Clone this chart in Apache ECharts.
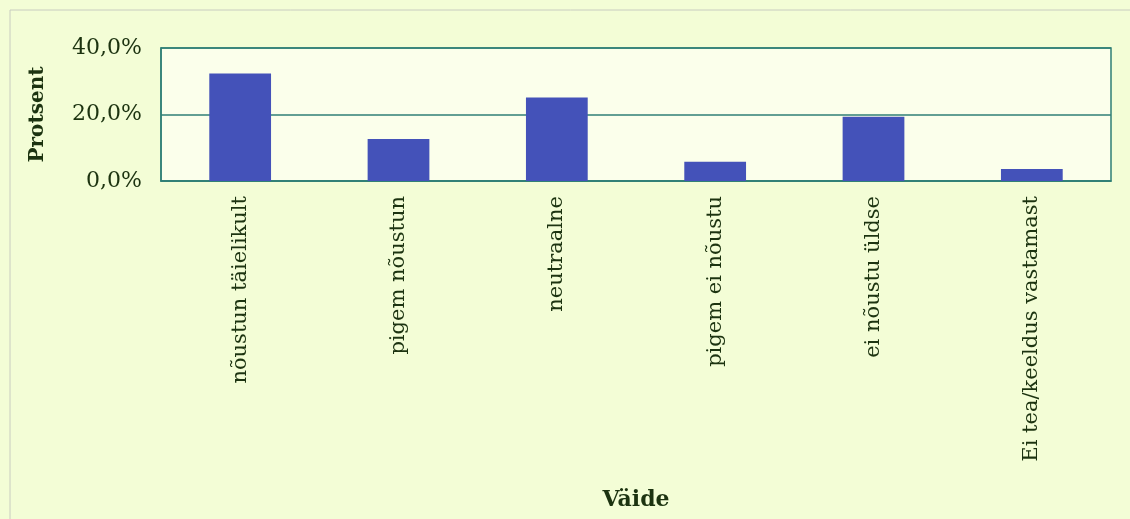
<!DOCTYPE html>
<html>
<head>
<meta charset="utf-8">
<script src="https://cdn.jsdelivr.net/npm/echarts@6/dist/echarts.min.js"></script>
<style>
  html, body { margin: 0; padding: 0; background: #f3fdd6; }
  #chart { width: 1130px; height: 519px; }
</style>
</head>
<body>
<div id="chart"></div>
<script>
// categories and values (percent)
const categories = ['nõustun täielikult', 'pigem nõustun', 'neutraalne', 'pigem ei nõustu', 'ei nõustu üldse', 'Ei tea/keeldus vastamast']
const percents = [32.3, 12.6, 25.1, 5.8, 19.3, 3.6]
const yTicks = [0, 20, 40]

const textColor = '#1c3310'
const lineColor = '#2f7f76'
const serif = '"DejaVu Serif", "Liberation Serif", serif'

const chart = echarts.init(document.getElementById('chart'))

chart.setOption({
  backgroundColor: '#f3fdd6',
  animation: false,
  graphic: [{
    type: 'rect',
    shape: { x: 10, y: 10, width: 1130, height: 530 },
    style: { fill: 'none', stroke: '#c8ccc0', lineWidth: 1 },
    silent: true
  }],
  grid: {
    left: 161,
    right: 19,
    top: 48,
    height: 133,
    show: true,
    backgroundColor: '#fbffeb',
    borderColor: lineColor,
    borderWidth: 1.5
  },
  xAxis: {
    type: 'category',
    data: categories,
    name: 'Väide',
    nameLocation: 'middle',
    nameGap: 308,
    nameTextStyle: { fontFamily: serif, fontWeight: 'bold', fontSize: 22, color: textColor },
    axisLine: { lineStyle: { color: lineColor, width: 1.5 } },
    axisTick: { inside: true, length: 6, lineStyle: { color: lineColor, width: 1.5 } },
    axisLabel: {
      rotate: 90,
      interval: 0,
      margin: 15,
      fontFamily: serif,
      fontSize: 21,
      color: textColor
    }
  },
  yAxis: {
    type: 'value',
    min: yTicks[0],
    max: yTicks[yTicks.length - 1],
    interval: yTicks[1] - yTicks[0],
    name: 'Protsent',
    nameLocation: 'middle',
    nameGap: 113,
    nameRotate: 90,
    nameTextStyle: { fontFamily: serif, fontWeight: 'bold', fontSize: 20, color: textColor },
    axisLine: { show: true, lineStyle: { color: lineColor, width: 1.5 } },
    axisTick: { show: false },
    splitLine: { lineStyle: { color: lineColor, width: 1.5 } },
    axisLabel: {
      margin: 19,
      fontFamily: serif,
      fontSize: 22,
      color: textColor,
      formatter: v => v.toFixed(1).replace('.', ',') + '%'
    }
  },
  series: [{
    type: 'bar',
    data: percents,
    barWidth: '39%',
    itemStyle: { color: '#4452b9' }
  }]
})
</script>
</body>
</html>
